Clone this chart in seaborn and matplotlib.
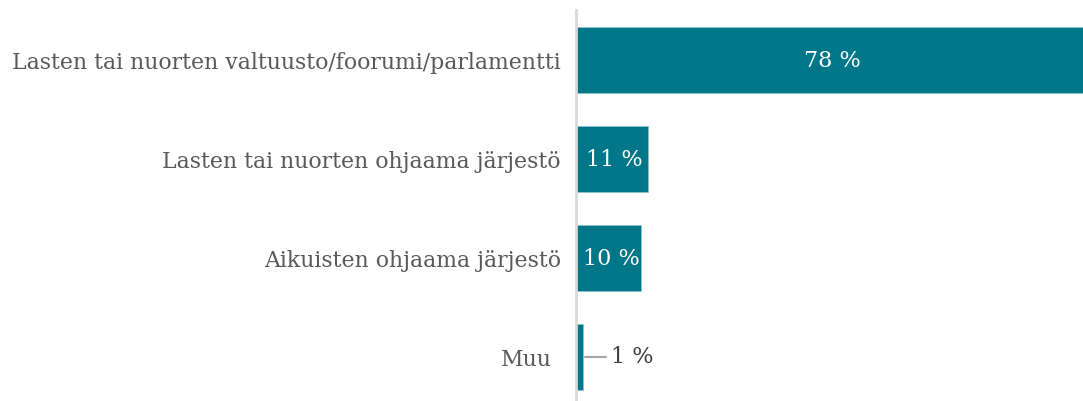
import matplotlib
matplotlib.use("Agg")
import matplotlib.pyplot as plt
import matplotlib.transforms as mtransforms
import seaborn as sns
import pandas as pd

categories = [
    "Lasten tai nuorten valtuusto/foorumi/parlamentti",
    "Lasten tai nuorten ohjaama järjestö",
    "Aikuisten ohjaama järjestö",
    "Muu",
]
values = [78, 11, 10, 1]
value_labels = ["78 %", "11 %", "10 %", "1 %"]

df = pd.DataFrame({"category": categories, "value": values})

sns.set_theme(style="white")
plt.rcParams["font.family"] = ["DejaVu Serif"]

W, H = 1083, 401
fig = plt.figure(figsize=(W / 100, H / 100), dpi=100)
ax = fig.add_axes([576 / W, 0, 1 - 576 / W, 1 - 10 / H])

bar_color = "#007689"
sns.barplot(data=df, y="category", x="value", orient="h", color=bar_color,
            width=0.666, edgecolor="#8cc4cf", linewidth=0.6, ax=ax, saturation=1)

ax.set_xlim(0, 78)
ax.set_ylim(3.444, -0.505)
ax.set_xlabel("")
ax.set_ylabel("")
ax.set_xticks([])
for s in ["top", "right", "bottom"]:
    ax.spines[s].set_visible(False)
ax.spines["left"].set_color("#d9d9d9")
ax.spines["left"].set_linewidth(2)
ax.tick_params(axis="y", length=0, pad=11, labelsize=15.8, labelcolor="#595959")

# the last category label sits slightly further left in the reference
last = ax.get_yticklabels()[-1]
last.set_transform(last.get_transform() +
                   mtransforms.ScaledTranslation(-9 / 100, 0, fig.dpi_scale_trans))

for i, (v, lab) in enumerate(zip(values, value_labels)):
    if v >= 5:
        ax.annotate(lab, (v / 2, i), xytext=(3, -1), textcoords="offset pixels",
                    ha="center", va="center", color="white", fontsize=16)
    else:
        ax.plot([v + 0.38, v + 3.6], [i, i], color="#a6a6a6", linewidth=1.5)
        ax.text(v + 4.4, i, lab, ha="left", va="center", color="#404040", fontsize=16)

fig.savefig("out.png", dpi=100)
